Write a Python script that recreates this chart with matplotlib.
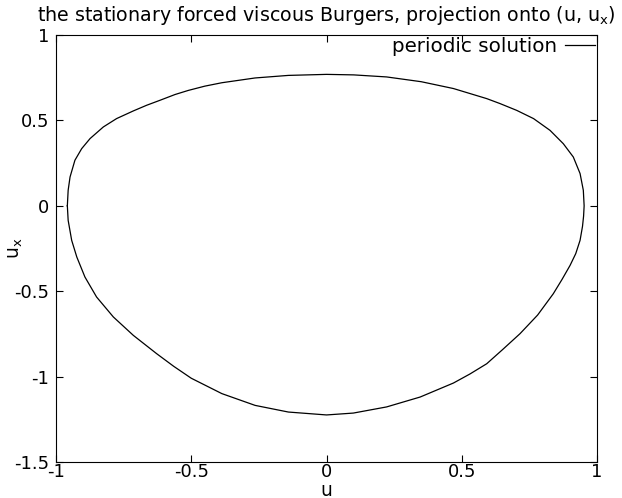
import numpy as np
import matplotlib
matplotlib.use("Agg")
import matplotlib.pyplot as plt

# points of the periodic orbit (u, u_x), clockwise from the left
u = [-0.958, -0.955, -0.948, -0.930, -0.905, -0.874, -0.825, -0.776, -0.714, -0.665,
     -0.616, -0.560, -0.511, -0.450, -0.387, -0.264, -0.141, 0.000, 0.100, 0.222,
     0.350, 0.469, 0.592, 0.641, 0.703, 0.765, 0.826, 0.875, 0.912, 0.937,
     0.949, 0.952,
     0.950, 0.946, 0.937, 0.921, 0.900, 0.870, 0.838, 0.780, 0.715, 0.650,
     0.592, 0.530, 0.469, 0.346, 0.222, 0.099, 0.000, -0.141, -0.264, -0.387,
     -0.500, -0.565, -0.628, -0.714, -0.788, -0.850, -0.893, -0.923, -0.942, -0.955,
     -0.958]
ux = [0.000, 0.091, 0.169, 0.267, 0.335, 0.394, 0.462, 0.511, 0.556, 0.589,
      0.618, 0.652, 0.676, 0.701, 0.721, 0.749, 0.764, 0.770, 0.767, 0.755,
      0.727, 0.687, 0.628, 0.599, 0.559, 0.511, 0.442, 0.364, 0.286, 0.189,
      0.091, 0.000,
      -0.060, -0.120, -0.202, -0.280, -0.349, -0.432, -0.515, -0.640, -0.749, -0.843,
      -0.925, -0.985, -1.038, -1.120, -1.178, -1.214, -1.225, -1.208, -1.169, -1.100,
      -1.010, -0.940, -0.866, -0.759, -0.651, -0.534, -0.417, -0.300, -0.202, -0.085,
      0.000]

xticks = [-1, -0.5, 0, 0.5, 1]
yticks = [-1.5, -1, -0.5, 0, 0.5, 1]

plt.rcParams['font.family'] = 'DejaVu Sans'
plt.rcParams['axes.unicode_minus'] = False

fig = plt.figure(figsize=(6.22, 4.98), dpi=100)
ax = fig.add_axes([0.090, 0.0725, 0.870, 0.857])

ax.plot(u, ux, color='black', lw=0.9, solid_joinstyle='round', label='periodic solution')

ax.set_xlim(-1, 1)
ax.set_ylim(-1.5, 1)
ax.set_xticks(xticks)
ax.set_xticklabels(['-1', '-0.5', '0', '0.5', '1'])
ax.set_yticks(yticks)
ax.set_yticklabels(['-1.5', '-1', '-0.5', '0', '0.5', '1'])
ax.tick_params(direction='in', length=5, width=0.8, top=True, right=True, labelsize=13)
ax.tick_params(axis='x', pad=1)
ax.tick_params(axis='y', pad=5)
for s in ax.spines.values():
    s.set_linewidth(0.8)

ax.set_xlabel('u', fontsize=13.5)
ax.xaxis.set_label_coords(0.5, -0.044)
ax.set_ylabel('u$_\\mathregular{x}$', fontsize=13.5)
ax.yaxis.set_label_coords(-0.058, 0.5)
ax.set_title('the stationary forced viscous Burgers, projection onto (u, u$_\\mathregular{x}$)',
             fontsize=13.7, pad=10)

ax.legend(loc='upper right', frameon=False, markerfirst=False, fontsize=14.3,
          handlelength=1.5, handletextpad=0.4, borderaxespad=0.1, borderpad=0.0)

fig.savefig('out.png', dpi=100)
